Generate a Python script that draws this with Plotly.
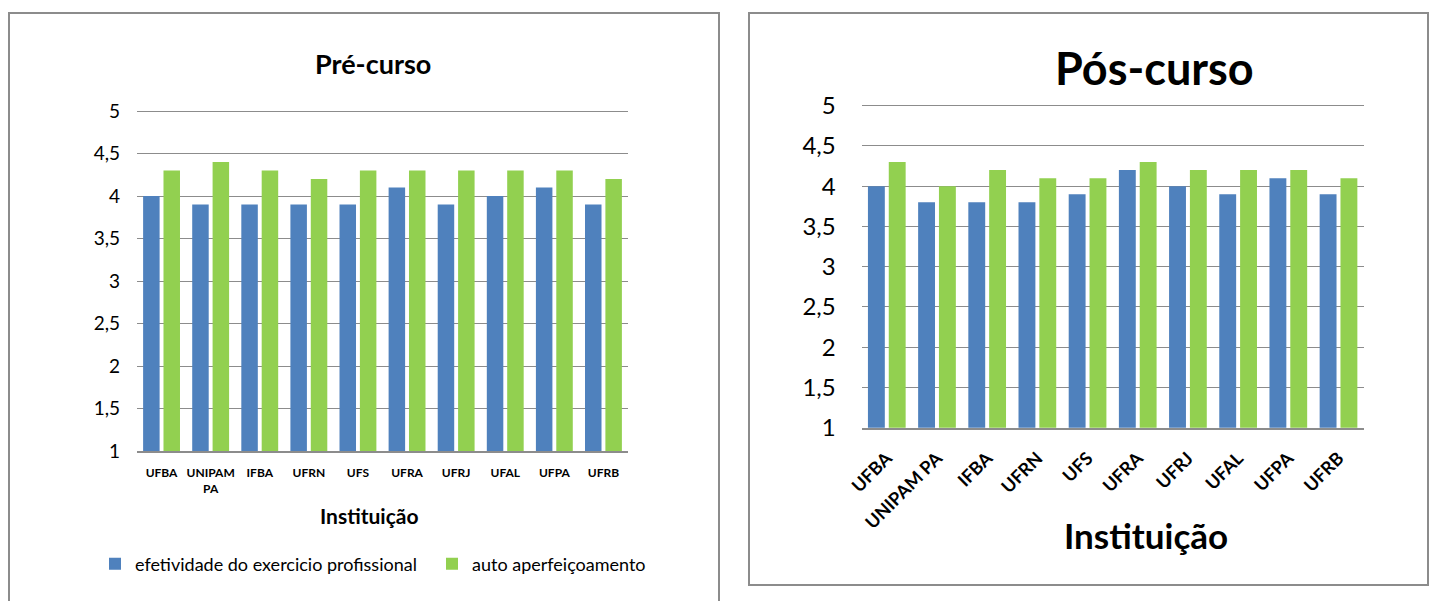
import plotly.graph_objects as go

# Institutions surveyed
instituicoes_pre = ["UFBA", "UNIPAM<br>PA", "IFBA", "UFRN", "UFS", "UFRA", "UFRJ", "UFAL", "UFPA", "UFRB"]
instituicoes_pos = ["UFBA", "UNIPAM PA", "IFBA", "UFRN", "UFS", "UFRA", "UFRJ", "UFAL", "UFPA", "UFRB"]

# Mean scores before the course
pre_efetividade = [4.0, 3.9, 3.9, 3.9, 3.9, 4.1, 3.9, 4.0, 4.1, 3.9]
pre_aperfeicoamento = [4.3, 4.4, 4.3, 4.2, 4.3, 4.3, 4.3, 4.3, 4.3, 4.2]

# Mean scores after the course
pos_efetividade = [4.0, 3.8, 3.8, 3.8, 3.9, 4.2, 4.0, 3.9, 4.1, 3.9]
pos_aperfeicoamento = [4.3, 4.0, 4.2, 4.1, 4.1, 4.3, 4.2, 4.2, 4.2, 4.1]

serie_nomes = ["efetividade do exercicio profissional", "auto aperfeiçoamento"]
y_ticks = [1, 1.5, 2, 2.5, 3, 3.5, 4, 4.5, 5]
y_range = [1, 5.02]  # small headroom so the top gridline at 5 is drawn

AZUL = "#4F81BD"
VERDE = "#92D050"
GRADE = "#8C8C8C"
FONTE = "Lato, 'Open Sans', sans-serif"

W, H = 1436, 601


def px_x(v):
    return v / W


def px_y(v):
    return 1 - v / H


def topo(y_base, y_cinco):
    # pixel row of the top of the plot area so that the value 5 sits at y_cinco
    por_unidade = (y_base - y_cinco) / (5 - y_range[0])
    return y_cinco - (y_range[1] - 5) * por_unidade


fig = go.Figure()

fig.add_trace(go.Bar(x=instituicoes_pre, y=pre_efetividade, name=serie_nomes[0],
                     marker=dict(color=AZUL, line=dict(width=0)), xaxis="x", yaxis="y"))
fig.add_trace(go.Bar(x=instituicoes_pre, y=pre_aperfeicoamento, name=serie_nomes[1],
                     marker=dict(color=VERDE, line=dict(width=0)), xaxis="x", yaxis="y"))
fig.add_trace(go.Bar(x=instituicoes_pos, y=pos_efetividade, name=serie_nomes[0], showlegend=False,
                     marker=dict(color=AZUL, line=dict(width=0)), xaxis="x2", yaxis="y2"))
fig.add_trace(go.Bar(x=instituicoes_pos, y=pos_aperfeicoamento, name=serie_nomes[1], showlegend=False,
                     marker=dict(color=VERDE, line=dict(width=0)), xaxis="x2", yaxis="y2"))

eixo_y = dict(range=y_range, tickvals=y_ticks, showgrid=True, gridcolor=GRADE, gridwidth=1,
              zeroline=False, showline=False, ticks="", automargin=False)
eixo_x = dict(showgrid=False, zeroline=False, showline=True, linecolor=GRADE, linewidth=2,
              ticks="", type="category", automargin=False)

fig.update_layout(
    width=W, height=H,
    margin=dict(l=0, r=0, t=0, b=0, pad=0, autoexpand=False),
    paper_bgcolor="white", plot_bgcolor="white",
    separators=",.",
    barmode="group", bargap=0.17, bargroupgap=0.19,
    font=dict(family=FONTE, color="#000000"),
    xaxis=dict(eixo_x, domain=[px_x(137), px_x(628)], anchor="y",
               tickfont=dict(size=12, family=FONTE, weight="bold"), ticklabelstandoff=10),
    yaxis=dict(eixo_y, domain=[px_y(451), px_y(topo(451, 111))], anchor="x",
               tickfont=dict(size=19, family=FONTE), ticklabelstandoff=16),
    xaxis2=dict(eixo_x, domain=[px_x(861.7), px_x(1363.6)], anchor="y2",
                tickangle=-45, tickfont=dict(size=18, family=FONTE, weight="bold"), ticklabelstandoff=11),
    yaxis2=dict(eixo_y, domain=[px_y(427.7), px_y(topo(427.7, 105.7))], anchor="x2",
                tickfont=dict(size=24, family=FONTE), ticklabelstandoff=25),
    legend=dict(orientation="h", x=px_x(95), xanchor="left", y=px_y(564), yanchor="middle",
                font=dict(size=18, family=FONTE), entrywidth=292, entrywidthmode="pixels",
                bgcolor="rgba(0,0,0,0)", itemclick=False),
    shapes=[
        dict(type="rect", xref="paper", yref="paper", x0=px_x(9), x1=px_x(719), y0=px_y(612), y1=px_y(13),
             line=dict(color=GRADE, width=2), fillcolor="rgba(0,0,0,0)", layer="below"),
        dict(type="rect", xref="paper", yref="paper", x0=px_x(749), x1=px_x(1428), y0=px_y(585), y1=px_y(13),
             line=dict(color=GRADE, width=2), fillcolor="rgba(0,0,0,0)", layer="below"),
    ],
    annotations=[
        dict(text="Pré-curso", xref="paper", yref="paper", x=px_x(373), y=px_y(63), showarrow=False,
             xanchor="center", yanchor="middle", font=dict(size=27, family=FONTE, weight="bold")),
        dict(text="Instituição", xref="paper", yref="paper", x=px_x(369), y=px_y(515), showarrow=False,
             xanchor="center", yanchor="middle", font=dict(size=21, family=FONTE, weight="bold")),
        dict(text="Pós-curso", xref="paper", yref="paper", x=px_x(1154), y=px_y(68), showarrow=False,
             xanchor="center", yanchor="middle", font=dict(size=45, family=FONTE, weight="bold")),
        dict(text="Instituição", xref="paper", yref="paper", x=px_x(1146), y=px_y(535), showarrow=False,
             xanchor="center", yanchor="middle", font=dict(size=35, family=FONTE, weight="bold")),
    ],
)

fig.write_html("out.html")
